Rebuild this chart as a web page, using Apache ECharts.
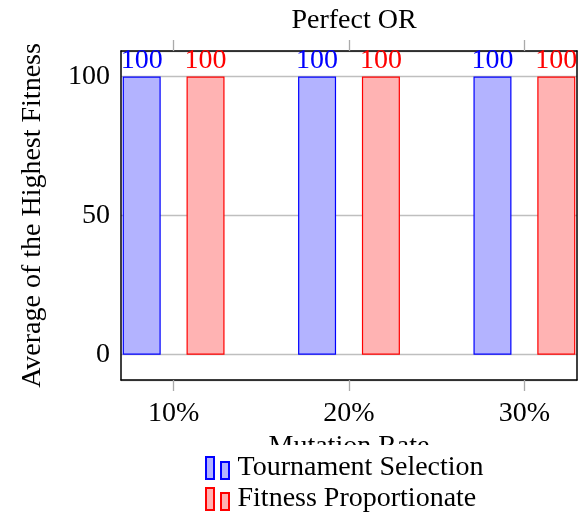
<!DOCTYPE html>
<html>
<head>
<meta charset="utf-8">
<script src="https://cdn.jsdelivr.net/npm/echarts@6/dist/echarts.min.js"></script>
<style>
  html, body { margin: 0; padding: 0; background: #fff; }
  #chart { width: 586px; height: 519px; }
</style>
</head>
<body>
<div id="chart"></div>
<script>
  // mutation rates (in %) and the two selection schemes
  const rates = [10, 20, 30];
  const tournament = [100, 100, 100];
  const proportionate = [100, 100, 100];
  const yTicks = [0, 50, 100];

  const font = 'Liberation Serif';
  const fs = 28;

  const pair = (vals) => rates.map((r, i) => [r, vals[i]]);
  const legendIcon = 'path://M0,0h8v22h-8z M15,5h8v17h-8z';
  const frame = {show: true, onZero: false, lineStyle: {color: '#000', width: 1.5}};
  const tick = {show: true, inside: false, length: 11, customValues: rates,
    lineStyle: {color: '#aaa', width: 1.3}};

  const chart = echarts.init(document.getElementById('chart'));
  chart.setOption({
    animation: false,
    textStyle: {fontFamily: font},
    title: {
      text: 'Perfect OR',
      left: 349, top: 2, textAlign: 'center',
      textStyle: {fontFamily: font, fontSize: fs, fontWeight: 'normal', color: '#000'}
    },
    grid: {left: 121, right: 9, top: 51, bottom: 139},
    legend: {
      orient: 'vertical',
      left: 199, top: 445,
      padding: [9, 6, 4, 6],
      backgroundColor: '#fff',
      itemWidth: 24, itemHeight: 22, itemGap: 3,
      icon: legendIcon,
      textStyle: {fontFamily: font, fontSize: fs, color: '#000', padding: [0, 0, 0, 3]},
      data: ['Tournament Selection', 'Fitness Proportionate']
    },
    xAxis: [{
      type: 'value', min: 7, max: 33, position: 'bottom',
      name: 'Mutation Rate', nameLocation: 'middle', nameGap: 46,
      nameTextStyle: {fontFamily: font, fontSize: fs, color: '#000'},
      axisLine: frame,
      splitLine: {show: false},
      axisTick: tick,
      axisLabel: {customValues: rates, margin: 20, formatter: v => v + '%',
        fontFamily: font, fontSize: fs, color: '#000'}
    }, {
      type: 'value', min: 7, max: 33, position: 'top',
      axisLine: frame,
      splitLine: {show: false},
      axisTick: tick,
      axisLabel: {show: false}
    }],
    yAxis: [{
      type: 'value', min: -9.1, max: 109.2, splitNumber: 2, position: 'left',
      name: 'Average of the Highest Fitness', nameLocation: 'middle', nameGap: 74,
      nameTextStyle: {fontFamily: font, fontSize: fs, color: '#000'},
      axisLine: frame,
      axisTick: {show: false},
      splitLine: {lineStyle: {color: '#bfbfbf', width: 1.3}},
      axisLabel: {
        margin: 11, fontFamily: font, fontSize: fs, color: '#000',
        formatter: v => (yTicks.indexOf(v) >= 0 ? String(v) : '')
      }
    }, {
      type: 'value', min: -9.1, max: 109.2, position: 'right',
      axisLine: frame,
      axisTick: {show: false},
      splitLine: {show: false},
      axisLabel: {show: false}
    }],
    series: [{
      name: 'Tournament Selection',
      type: 'bar',
      data: pair(tournament),
      barWidth: 38, barGap: '68%',
      itemStyle: {color: '#b3b3ff', borderColor: '#0000ff', borderWidth: 1.2},
      label: {show: true, position: 'top', distance: 2, color: '#0000ff',
        fontFamily: font, fontSize: fs}
    }, {
      name: 'Fitness Proportionate',
      type: 'bar',
      data: pair(proportionate),
      barWidth: 38,
      itemStyle: {color: '#ffb3b3', borderColor: '#ff0000', borderWidth: 1.2},
      label: {show: true, position: 'top', distance: 2, color: '#ff0000',
        fontFamily: font, fontSize: fs}
    }]
  });
</script>
</body>
</html>
